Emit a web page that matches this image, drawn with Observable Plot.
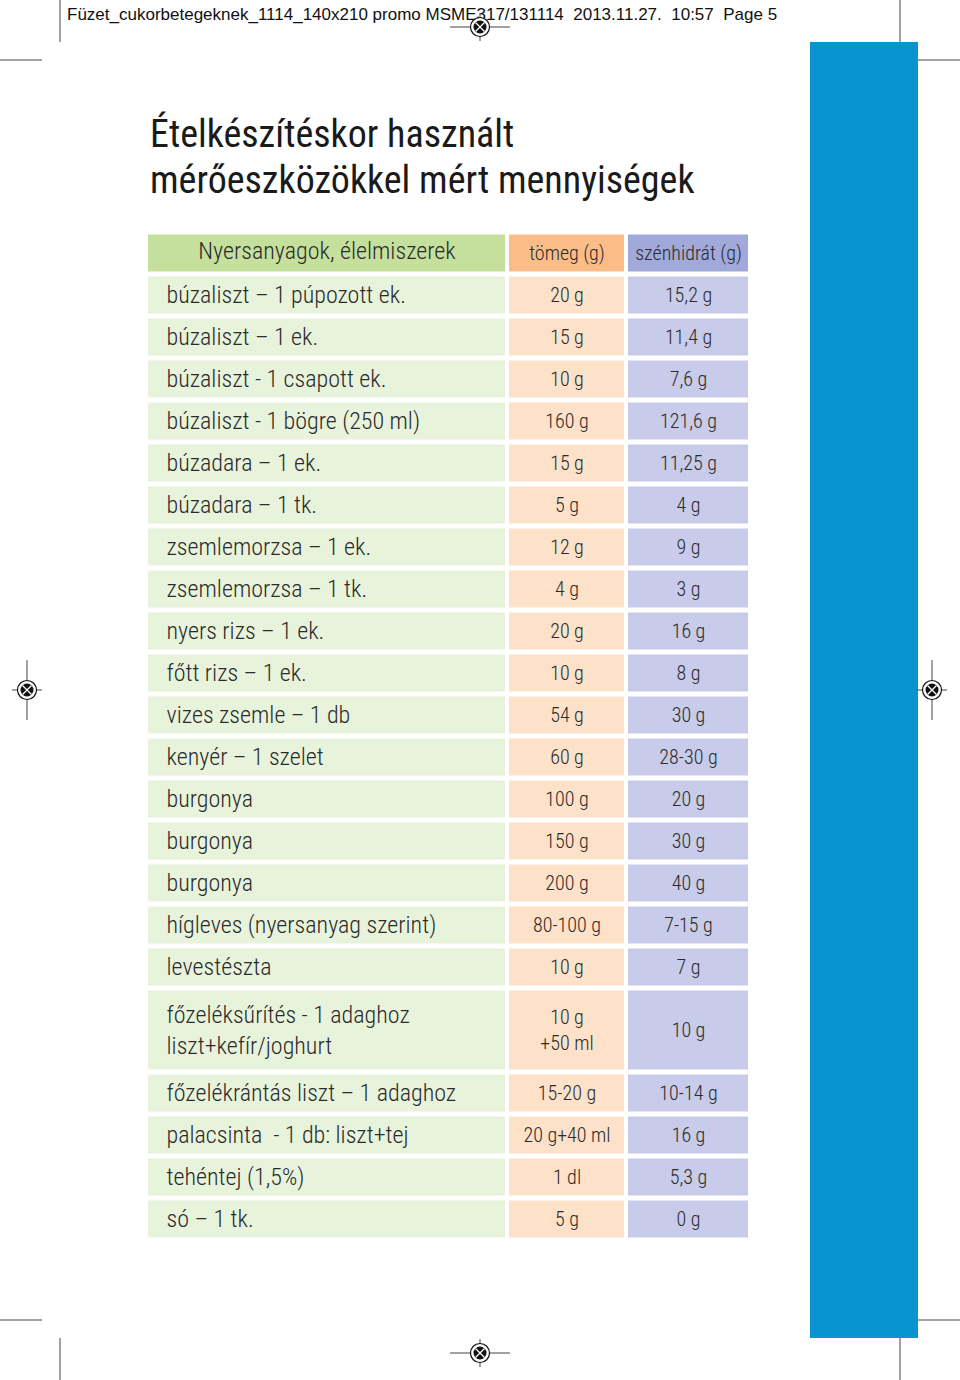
<!DOCTYPE html>
<html>
<head>
<meta charset="utf-8">
<script src="https://cdn.jsdelivr.net/npm/d3@7"></script>
<script src="https://cdn.jsdelivr.net/npm/@observablehq/plot@0.6"></script>
<style>
  html, body { margin: 0; padding: 0; background: #fff; }
  #page { position: relative; width: 960px; height: 1380px; overflow: hidden; background: #fff; }
  #blue { position: absolute; left: 810px; top: 42px; width: 108px; height: 1296px; background: #0a93d1; }
  #table { position: absolute; left: 146px; top: 232px; }
  #deco { position: absolute; left: 0; top: 0; pointer-events: none; }
</style>
</head>
<body>
<div id="page">
  <div id="blue"></div>
  <div id="table"></div>
  <svg id="deco" width="960" height="1380"></svg>
</div>
<script>
// ---- data ----
const pageHeader = "Füzet_cukorbetegeknek_1114_140x210 promo MSME317/131114  2013.11.27.  10:57  Page 5";
const titleLines = ["Ételkészítéskor használt", "mérőeszközökkel mért mennyiségek"];
const columns = ["Nyersanyagok, élelmiszerek", "tömeg (g)", "szénhidrát (g)"];
const items = [
  "búzaliszt – 1 púpozott ek.", "búzaliszt – 1 ek.", "búzaliszt - 1 csapott ek.",
  "búzaliszt - 1 bögre (250 ml)", "búzadara – 1 ek.", "búzadara – 1 tk.",
  "zsemlemorzsa – 1 ek.", "zsemlemorzsa – 1 tk.", "nyers rizs – 1 ek.", "főtt rizs – 1 ek.",
  "vizes zsemle – 1 db", "kenyér – 1 szelet", "burgonya", "burgonya", "burgonya",
  "hígleves (nyersanyag szerint)", "levestészta",
  "főzeléksűrítés - 1 adaghoz\nliszt+kefír/joghurt",
  "főzelékrántás liszt – 1 adaghoz", "palacsinta  - 1 db: liszt+tej",
  "tehéntej (1,5%)", "só – 1 tk."
];
const mass = [
  "20 g", "15 g", "10 g", "160 g", "15 g", "5 g", "12 g", "4 g", "20 g", "10 g",
  "54 g", "60 g", "100 g", "150 g", "200 g", "80-100 g", "10 g", "10 g\n+50 ml",
  "15-20 g", "20 g+40 ml", "1 dl", "5 g"
];
const carbs = [
  "15,2 g", "11,4 g", "7,6 g", "121,6 g", "11,25 g", "4 g", "9 g", "3 g", "16 g", "8 g",
  "30 g", "28-30 g", "20 g", "30 g", "40 g", "7-15 g", "7 g", "10 g",
  "10-14 g", "16 g", "5,3 g", "0 g"
];

// ---- styling ----
const colWidths = [361, 119, 124];
const headerFills = ["#c5e09d", "#fbbd88", "#a1a9da"];
const rowFills = ["#e8f3dc", "#fde1c8", "#c8cbe9"];
const FONT = "'Roboto Condensed', 'Liberation Sans Narrow', 'Arial Narrow', sans-serif";
const unit = 42;

// build cells
const colEdges = [0];
colWidths.forEach(w => colEdges.push(colEdges[colEdges.length - 1] + w));
const rows = [{cells: columns, header: true, span: 1}];
items.forEach((it, i) => {
  const span = Math.max(...[it, mass[i], carbs[i]].map(s => s.split("\n").length));
  rows.push({cells: [it, mass[i], carbs[i]], header: false, span});
});
let acc = 0;
const cells = [];
rows.forEach(r => {
  r.y1 = acc; r.y2 = acc + r.span; acc += r.span;
  r.cells.forEach((t, c) => cells.push({
    text: t, col: c, header: r.header,
    x1: colEdges[c], x2: colEdges[c + 1], y1: r.y1, y2: r.y2,
    fill: r.header ? headerFills[c] : rowFills[c]
  }));
});
const totalUnits = acc;
const W = colEdges[colEdges.length - 1];
const H = totalUnits * unit;

const chart = Plot.plot({
  width: W, height: H,
  margin: 0,
  x: {type: "linear", domain: [0, W], range: [0, W], axis: null},
  y: {type: "linear", domain: [0, totalUnits], range: [0, H], axis: null},
  style: {fontFamily: FONT, background: "transparent"},
  marks: [
    Plot.rect(cells, {x1: "x1", x2: "x2", y1: "y1", y2: "y2", fill: "fill",
      insetLeft: 2, insetRight: 2, insetTop: 2.5, insetBottom: 2.5}),
    Plot.text(cells.filter(d => d.col === 0 && !d.header), {
      x: "x1", y: d => (d.y1 + d.y2) / 2, text: "text", dx: 20, dy: -2,
      textAnchor: "start", fontSize: 24, fontWeight: 300, lineHeight: 1.3, fill: "#2b2b2b", fontFamily: FONT
    }),
    Plot.text(cells.filter(d => d.col === 0 && d.header), {
      x: d => (d.x1 + d.x2) / 2, y: d => (d.y1 + d.y2) / 2, text: "text", dy: -2,
      fontSize: 24, fontWeight: 300, fill: "#2b2b2b", fontFamily: FONT
    }),
    Plot.text(cells.filter(d => d.col > 0), {
      x: d => (d.x1 + d.x2) / 2, y: d => (d.y1 + d.y2) / 2, text: "text", dy: -2,
      fontSize: 20, fontWeight: 300, lineHeight: 1.3, fill: "#2b2b2b", fontFamily: FONT
    })
  ]
});
document.getElementById("table").appendChild(chart);

// ---- page decoration (header, title, crop & registration marks) ----
const deco = d3.select("#deco");
deco.append("text").attr("x", 67).attr("y", 20).attr("font-family", "'Liberation Sans', Arial, sans-serif")
  .attr("font-size", 17).attr("fill", "#111").style("white-space", "pre").text(pageHeader);
titleLines.forEach((t, i) => {
  deco.append("text").attr("x", 150).attr("y", 147 + i * 46)
    .attr("font-family", FONT).attr("font-size", 38).attr("font-weight", 400).attr("fill", "#1a1a1a").text(t);
});
const lines = [
  [60, 0, 60, 42], [900, 0, 900, 42], [0, 60, 42, 60], [918, 60, 960, 60],
  [0, 1320, 42, 1320], [918, 1320, 960, 1320], [60, 1338, 60, 1380], [900, 1338, 900, 1380]
];
lines.forEach(([x1, y1, x2, y2]) => deco.append("line").attr("x1", x1).attr("y1", y1).attr("x2", x2).attr("y2", y2)
  .attr("stroke", "#444").attr("stroke-width", 1));
function reg(cx, cy, horizLong) {
  const g = deco.append("g").attr("transform", `translate(${cx},${cy})`);
  const lh = horizLong ? 30 : 15, lv = horizLong ? 14 : 30;
  g.append("line").attr("x1", -lh).attr("x2", lh).attr("y1", 0).attr("y2", 0).attr("stroke", "#444");
  g.append("line").attr("y1", -lv).attr("y2", lv).attr("x1", 0).attr("x2", 0).attr("stroke", "#444");
  g.append("circle").attr("r", 9.5).attr("fill", "#fff").attr("stroke", "#111").attr("stroke-width", 1.2);
  g.append("circle").attr("r", 6.5).attr("fill", "#111");
  g.append("line").attr("x1", -4.5).attr("y1", -4.5).attr("x2", 4.5).attr("y2", 4.5).attr("stroke", "#fff").attr("stroke-width", 1.3);
  g.append("line").attr("x1", -4.5).attr("y1", 4.5).attr("x2", 4.5).attr("y2", -4.5).attr("stroke", "#fff").attr("stroke-width", 1.3);
}
reg(480, 27, true);
reg(480, 1353, true);
reg(27, 690, false);
reg(932, 690, false);
</script>
</body>
</html>
